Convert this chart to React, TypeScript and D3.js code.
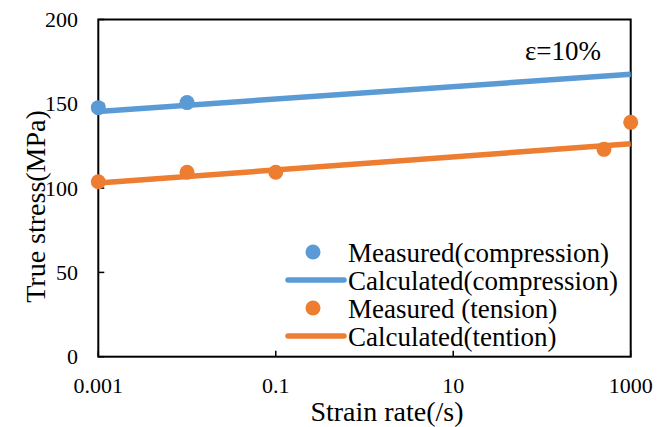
import React from "react";
import * as d3 from "d3";

const measuredCompRate = [0.001, 0.01];
const measuredCompStress = [147.7, 150.7];
const calcCompRate = [0.001, 1000];
const calcCompStress = [145.5, 167.5];
const measuredTensRate = [0.001, 0.01, 0.1, 500, 1000];
const measuredTensStress = [103.8, 109.4, 109.4, 123.0, 139.0];
const calcTensRate = [0.001, 1000];
const calcTensStress = [103.0, 126.3];
const xTicks = [0.001, 0.1, 10, 1000];
const xTickLabels = ["0.001", "0.1", "10", "1000"];
const yTicks = [0, 50, 100, 150, 200];
const legendLabels = [
  "Measured(compression)",
  "Calculated(compression)",
  "Measured (tension)",
  "Calculated(tention)",
];

const BLUE = "#5B9BD5";
const ORANGE = "#ED7D31";
const FONT = "Liberation Serif, DejaVu Serif, serif";
const ts = (size: number) => ({ fontFamily: FONT, fontSize: size + "px" });

export default function App() {
  const L = 98.3, R = 630.7, T = 19.5, B = 356.7;
  const x = d3.scaleLog().domain([0.001, 1000]).range([L, R]);
  const y = d3.scaleLinear().domain([0, 200]).range([B, T]);
  const line = d3
    .line<[number, number]>()
    .x((d) => x(d[0]))
    .y((d) => y(d[1]));
  const zip = (a: number[], b: number[]) => a.map((v, i) => [v, b[i]] as [number, number]);

  const legendRows = [252, 280, 308, 336];
  const legendKinds = ["dot", "line", "dot", "line"];
  const legendColors = [BLUE, BLUE, ORANGE, ORANGE];

  return (
    <div style={{ position: "absolute", left: 0, top: 0 }}>
      <svg width={670} height={427} style={{ display: "block", background: "#fff" }}>
        <rect x={0} y={0} width={670} height={427} fill="#fff" />
        {/* frame */}
        <rect x={L} y={T} width={R - L} height={B - T} fill="none" stroke="#000" strokeWidth={2} />
        {/* ticks (inside) */}
        {yTicks.map((t) => (
          <line key={"yt" + t} x1={L} x2={L + 6} y1={y(t)} y2={y(t)} stroke="#000" strokeWidth={1.5} />
        ))}
        {xTicks.map((t) => (
          <line key={"xt" + t} x1={x(t)} x2={x(t)} y1={B} y2={B - 6} stroke="#000" strokeWidth={1.5} />
        ))}
        {/* tick labels */}
        {yTicks.map((t) => (
          <text key={"yl" + t} x={78} y={y(t) + 7.5} textAnchor="end" style={ts(22)} fill="#000">
            {t}
          </text>
        ))}
        {xTicks.map((t, i) => (
          <text key={"xl" + t} x={x(t)} y={393} textAnchor="middle" style={ts(22)} fill="#000">
            {xTickLabels[i]}
          </text>
        ))}
        {/* axis titles */}
        <text x={387} y={421} textAnchor="middle" style={ts(28)} fill="#000">
          Strain rate(/s)
        </text>
        <text transform="translate(45,206.5) rotate(-90)" textAnchor="middle" style={ts(28)} fill="#000">
          True stress(MPa)
        </text>
        {/* lines */}
        <path d={line(zip(calcCompRate, calcCompStress)) || ""} fill="none" stroke={BLUE} strokeWidth={5.5} />
        <path d={line(zip(calcTensRate, calcTensStress)) || ""} fill="none" stroke={ORANGE} strokeWidth={5.5} />
        {/* markers */}
        {zip(measuredCompRate, measuredCompStress).map((d, i) => (
          <circle key={"mc" + i} cx={x(d[0])} cy={y(d[1])} r={7.5} fill={BLUE} />
        ))}
        {zip(measuredTensRate, measuredTensStress).map((d, i) => (
          <circle key={"mt" + i} cx={x(d[0])} cy={y(d[1])} r={7.5} fill={ORANGE} />
        ))}
        {/* annotation */}
        <text x={563} y={60} textAnchor="middle" style={ts(27)} fill="#000">
          ε=10%
        </text>
        {/* legend */}
        {legendLabels.map((lab, i) => (
          <g key={"lg" + i}>
            {legendKinds[i] === "dot" ? (
              <circle cx={313} cy={legendRows[i]} r={7.5} fill={legendColors[i]} />
            ) : (
              <line x1={288} x2={344} y1={legendRows[i]} y2={legendRows[i]} stroke={legendColors[i]} strokeWidth={5.5} strokeLinecap="round" />
            )}
            <text x={348} y={legendRows[i] + 9.5} style={ts(27)} fill="#000">
              {lab}
            </text>
          </g>
        ))}
      </svg>
    </div>
  );
}
